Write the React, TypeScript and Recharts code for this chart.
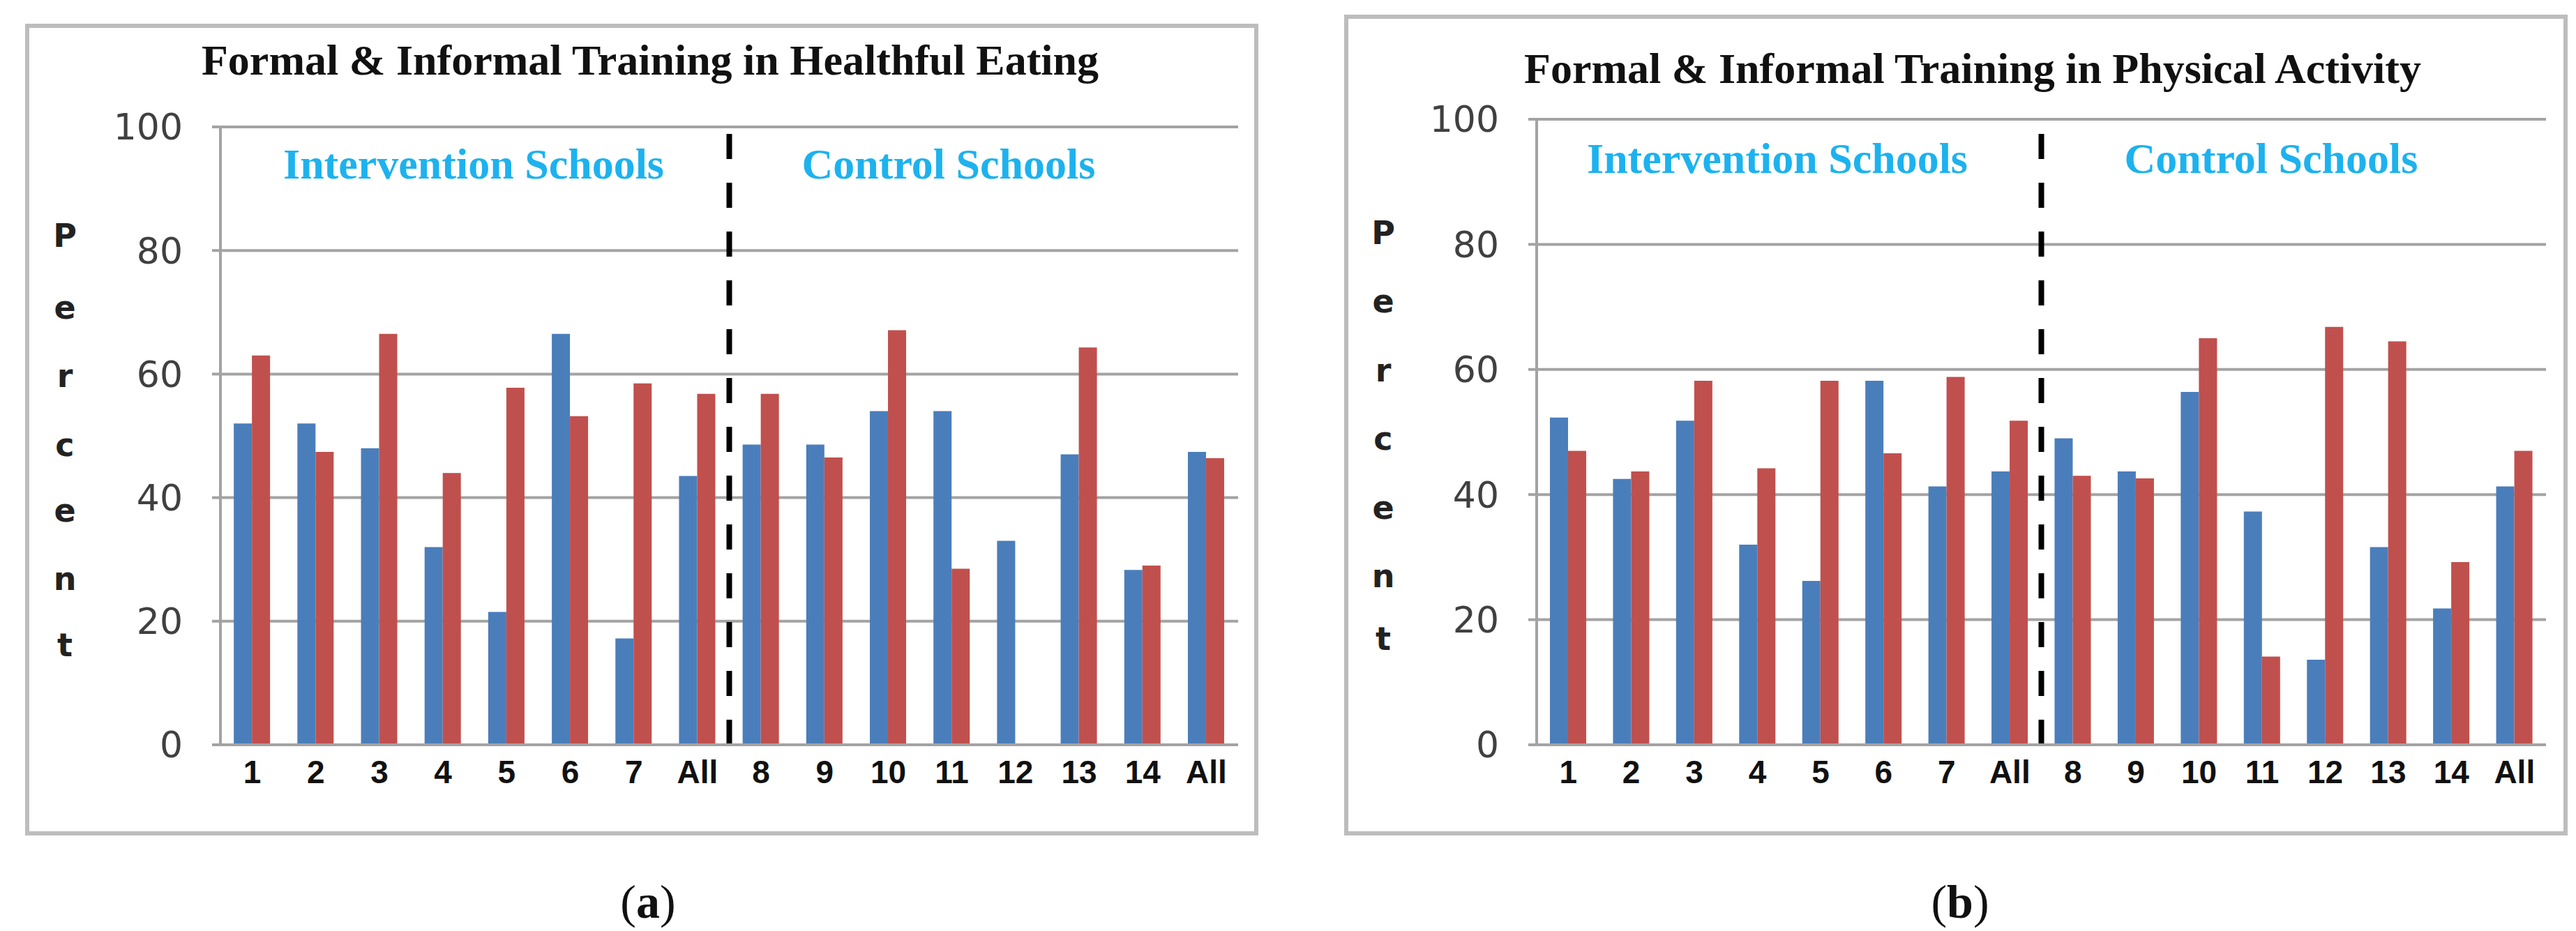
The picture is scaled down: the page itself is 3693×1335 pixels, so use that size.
import { BarChart, Bar, XAxis, YAxis, CartesianGrid, ReferenceLine } from 'recharts';

const categories = ['1', '2', '3', '4', '5', '6', '7', 'All', '8', '9', '10', '11', '12', '13', '14', 'All'];
const yTicks = [0, 20, 40, 60, 80, 100];

const eatingBlue = [52, 52, 48, 32, 21.5, 66.5, 17.2, 43.5, 48.6, 48.6, 54, 54, 33, 47, 28.3, 47.4];
const eatingRed = [63, 47.4, 66.5, 44, 57.8, 53.2, 58.5, 56.8, 56.8, 46.5, 67.1, 28.5, 0, 64.3, 29, 46.4];

const activityBlue = [52.3, 42.5, 51.8, 32, 26.2, 58.2, 41.3, 43.7, 49, 43.7, 56.4, 37.3, 13.6, 31.6, 21.8, 41.3];
const activityRed = [47, 43.7, 58.2, 44.2, 58.2, 46.6, 58.8, 51.8, 43, 42.6, 65, 14.1, 66.8, 64.5, 29.2, 47];

const percentLetters = ['P', 'e', 'r', 'c', 'e', 'n', 't'];

const BLUE = '#4a7ebb';
const RED = '#c0504d';
const CYAN = '#1db2ee';
const GRID = '#a3a3a3';

interface PanelProps {
  title: string;
  tag: string;
  blue: number[];
  red: number[];
  box: { left: number; top: number; width: number; height: number };
  plot: { left: number; top: number; right: number; bottom: number };
  titleAt: [number, number];
  interAt: [number, number];
  controlAt: [number, number];
  tagAt: [number, number];
  percentX: number;
  percentY: number[];
}

const centered = (x: number, y: number): React.CSSProperties => ({
  position: 'absolute',
  left: x,
  top: y,
  transform: 'translate(-50%, -50%)',
  whiteSpace: 'nowrap',
});

function Panel(p: PanelProps) {
  const data = categories.map((name, i) => ({ name, blue: p.blue[i], red: p.red[i] }));
  const yAxisWidth = 100;
  const xAxisHeight = 60;
  return (
    <>
      <div
        style={{
          position: 'absolute',
          left: p.box.left,
          top: p.box.top,
          width: p.box.width,
          height: p.box.height,
          border: '6px solid #bdbdbd',
          boxSizing: 'border-box',
        }}
      />
      <div style={{ position: 'absolute', left: p.box.left, top: p.box.top }}>
        <BarChart
          width={p.box.width}
          height={p.box.height}
          data={data}
          barCategoryGap="21%"
          barGap={0}
          margin={{
            left: p.plot.left - yAxisWidth,
            top: p.plot.top,
            right: p.plot.right,
            bottom: p.plot.bottom - xAxisHeight,
          }}
        >
          <CartesianGrid vertical={false} stroke={GRID} strokeWidth={4} />
          <XAxis
            dataKey="name"
            height={xAxisHeight}
            axisLine={{ stroke: GRID, strokeWidth: 4 }}
            tickLine={false}
            tickSize={0}
            tickMargin={22}
            interval={0}
            tick={{ fill: '#111', fontSize: 46, fontWeight: 700, fontFamily: 'Liberation Sans' }}
          />
          <YAxis
            width={yAxisWidth}
            domain={[0, 100]}
            ticks={yTicks}
            axisLine={{ stroke: GRID, strokeWidth: 4 }}
            tickLine={{ stroke: GRID, strokeWidth: 4 }}
            tickSize={12}
            tickMargin={42}
            tick={{ fill: '#404040', fontSize: 52, fontFamily: 'DejaVu Sans' }}
          />
          <Bar dataKey="blue" fill={BLUE} isAnimationActive={false} />
          <Bar dataKey="red" fill={RED} isAnimationActive={false} />
          <ReferenceLine x={8} position="start" stroke="#000" strokeWidth={8} strokeDasharray="36 34" />
        </BarChart>
      </div>
      <div
        style={{
          ...centered(p.titleAt[0], p.titleAt[1]),
          fontFamily: 'Liberation Serif',
          fontWeight: 700,
          fontSize: 62,
          color: '#111',
        }}
      >
        {p.title}
      </div>
      <div
        style={{
          ...centered(p.interAt[0], p.interAt[1]),
          fontFamily: 'Liberation Serif',
          fontWeight: 700,
          fontSize: 62,
          color: CYAN,
        }}
      >
        Intervention Schools
      </div>
      <div
        style={{
          ...centered(p.controlAt[0], p.controlAt[1]),
          fontFamily: 'Liberation Serif',
          fontWeight: 700,
          fontSize: 62,
          color: CYAN,
        }}
      >
        Control Schools
      </div>
      {percentLetters.map((ch, i) => (
        <div
          key={i}
          style={{
            ...centered(p.percentX, p.percentY[i]),
            fontFamily: 'DejaVu Sans',
            fontWeight: 700,
            fontSize: 46,
            color: '#222',
          }}
        >
          {ch}
        </div>
      ))}
      <div
        style={{
          ...centered(p.tagAt[0], p.tagAt[1]),
          fontFamily: 'Liberation Serif',
          fontSize: 68,
          color: '#111',
        }}
      >
        (<b>{p.tag}</b>)
      </div>
    </>
  );
}

export default function App() {
  return (
    <div
      style={{
        position: 'absolute',
        left: 0,
        top: 0,
        width: 3693,
        height: 1335,
        background: '#fff',
        overflow: 'hidden',
      }}
    >
      <Panel
        title="Formal & Informal Training in Healthful Eating"
        tag="a"
        blue={eatingBlue}
        red={eatingRed}
        box={{ left: 36, top: 34, width: 1768, height: 1164 }}
        plot={{ left: 280, top: 148, right: 29, bottom: 130 }}
        titleAt={[932, 86]}
        interAt={[679, 235]}
        controlAt={[1360, 235]}
        tagAt={[929, 1293]}
        percentX={93}
        percentY={[338, 441, 539, 638, 732, 830, 925]}
      />
      <Panel
        title="Formal & Informal Training in Physical Activity"
        tag="b"
        blue={activityBlue}
        red={activityRed}
        box={{ left: 1927, top: 21, width: 1754, height: 1177 }}
        plot={{ left: 276, top: 150, right: 31, bottom: 130 }}
        titleAt={[2828, 98]}
        interAt={[2548, 227]}
        controlAt={[3256, 227]}
        tagAt={[2810, 1293]}
        percentX={1983}
        percentY={[334, 432, 531, 629, 728, 826, 916]}
      />
    </div>
  );
}
